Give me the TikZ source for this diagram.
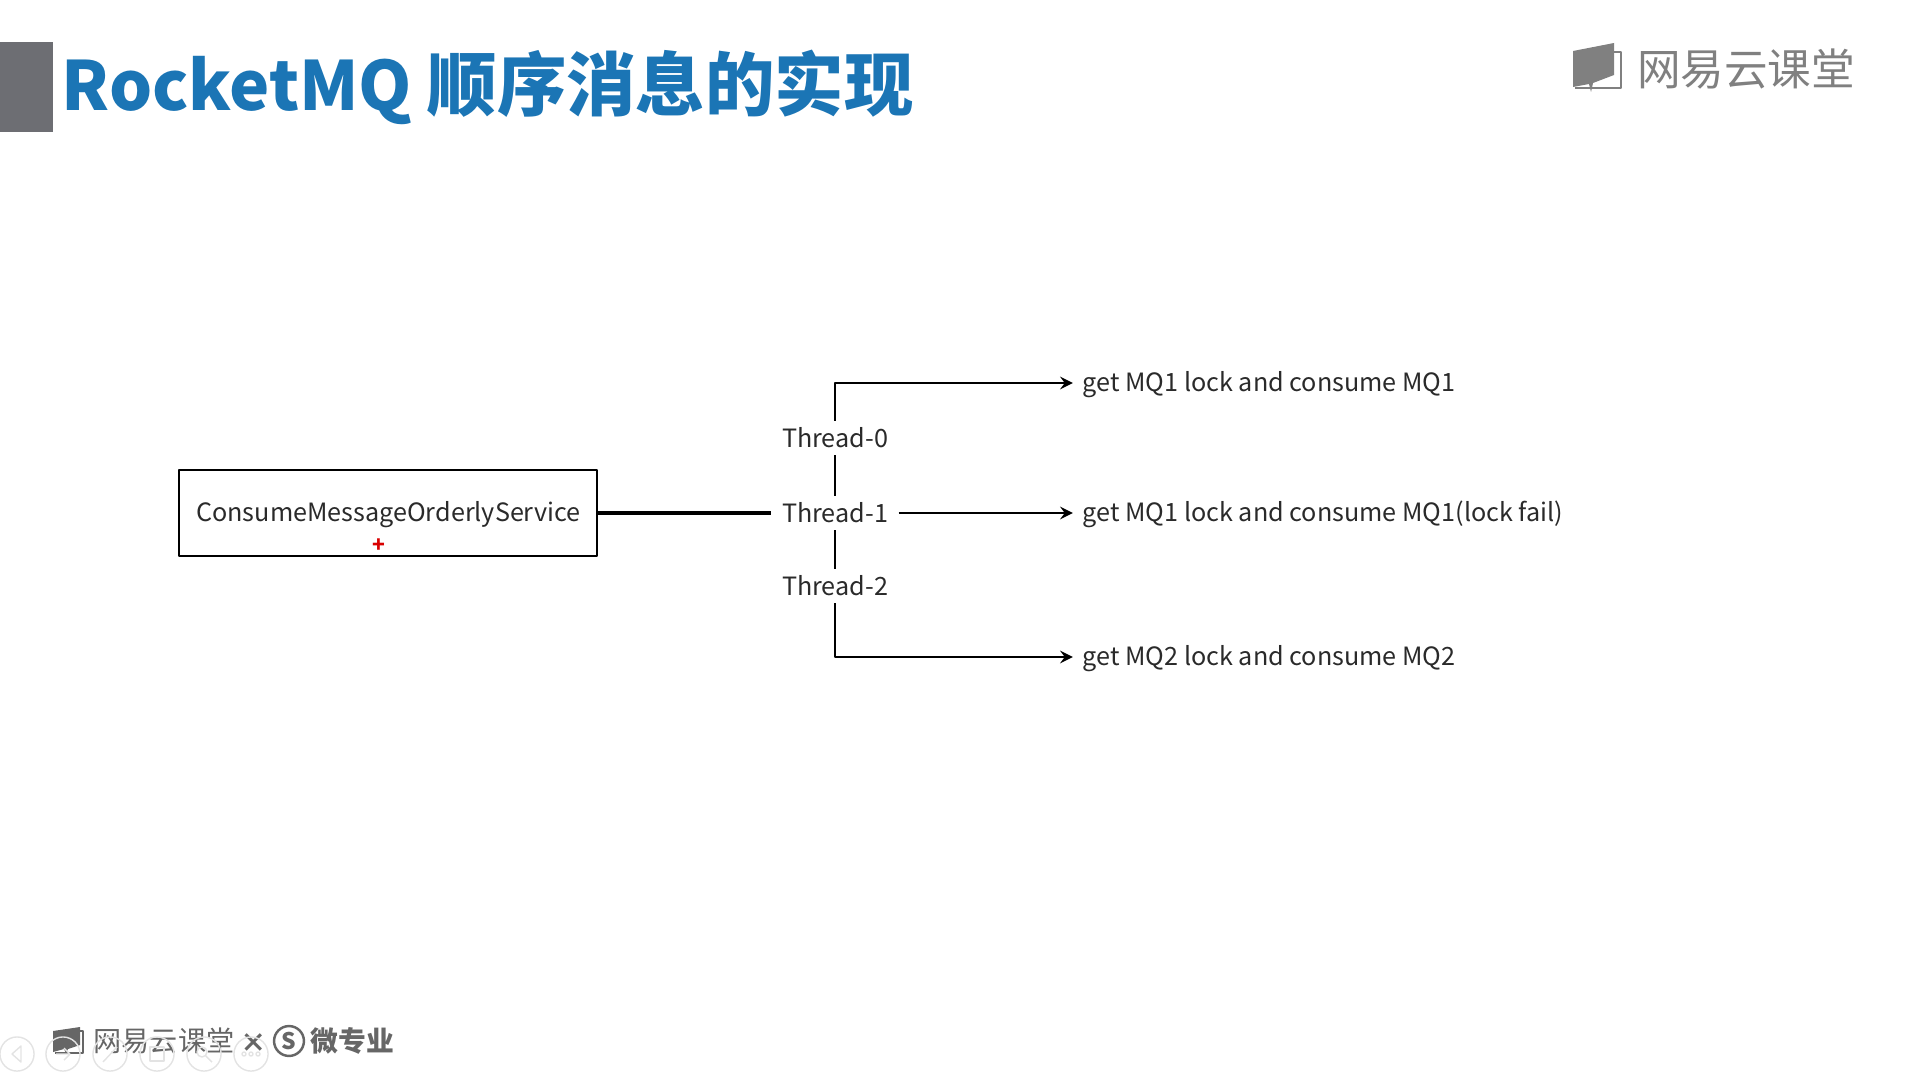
\documentclass[tikz,border=0pt]{standalone}
\usepackage{fontspec}
\setmainfont{Noto Sans CJK SC}
\usetikzlibrary{positioning}
\definecolor{titleblue}{HTML}{1B75B5}
\definecolor{bargray}{HTML}{6D6E73}
\definecolor{logogray}{HTML}{808080}
\definecolor{footgray}{HTML}{666666}
\definecolor{textdark}{HTML}{2A2A2A}
\tikzset{
	threadnode/.style={inner xsep=2.85pt,inner ysep=0pt,text height=7.5pt,text depth=1.9pt,text=textdark},
	resultnode/.style={inner sep=0pt,text height=6.1pt,text depth=1.5pt,text=textdark,anchor=west},
	navbutton/.style={draw=gray!22,line width=0.4pt},
}
\begin{document}
\begin{tikzpicture}[x=0.01cm,y=-0.01cm,font=\fontsize{7.16pt}{9pt}\selectfont,line join=round,>=stealth]
	\useasboundingbox (0,0) rectangle (1907,1073);
	% header
	\fill[bargray] (0,42) rectangle (53,132);
	\node[anchor=base west,inner sep=0pt,text=titleblue] (title) at (61,111) {\bfseries\fontsize{19.3pt}{24pt}\selectfont RocketMQ \fontsize{19.75pt}{24pt}\selectfont 顺序消息的实现};
	\fill[logogray] (1573,51)--(1614,43)--(1614,75)--(1593,83)--(1591,92)--(1589,84)--(1573,87)--cycle;
	\draw[logogray,line width=0.5pt] (1614,52)--(1621,52)--(1621,88)--(1575,88);
	\node[inner sep=0pt,text=logogray] (logo) at (1746,69) {\fontsize{12.4pt}{14pt}\selectfont 网易云课堂};
	% diagram
	\node[draw,line width=0.6pt,minimum width=119pt,minimum height=24.6pt,inner sep=0pt,text=textdark] (service) at (388,513) {};
	\node[text=textdark,inner sep=0pt] (servicetext) at (388.5,515) {ConsumeMessageOrderlyService};
	\node[inner sep=0pt,text=red!85!black] (cursor) at (379,546) {\fontsize{6pt}{6pt}\selectfont\bfseries +};
	\node[threadnode] (thread0) at (835,438) {Thread-0};
	\node[threadnode] (thread1) at (835,513) {Thread-1};
	\node[threadnode] (thread2) at (835,586) {Thread-2};
	\node[resultnode] (result0) at (1082,383) {get MQ1 lock and consume MQ1};
	\node[resultnode] (result1) at (1082,513) {get MQ1 lock and consume MQ1(lock fail)};
	\node[resultnode] (result2) at (1082,657) {get MQ2 lock and consume MQ2};
	\coordinate (corner0) at (thread0.north |- result0.west);
	\coordinate (corner2) at (thread2.south |- result2.west);
	\draw[line width=0.9pt] (service.east |- thread1.west)--(thread1.west);
	\draw[line width=0.6pt] (thread0)--(thread1);
	\draw[line width=0.6pt] (thread1)--(thread2);
	\draw[->,line width=0.6pt] (thread0)--(corner0)--([xshift=-2.6pt]result0.west);
	\draw[->,line width=0.6pt] (thread1)--([xshift=-2.6pt]result1.west);
	\draw[->,line width=0.6pt] (thread2)--(corner2)--([xshift=-2.6pt]result2.west);
	% footer
	\fill[footgray] (53,1031)--(80,1027)--(80,1045)--(68,1049)--(66,1053)--(64,1049)--(53,1052)--cycle;
	\draw[footgray,line width=0.4pt] (80,1031)--(83,1031)--(83,1053)--(55,1053);
	\node[anchor=west,inner sep=0pt,text=footgray] (footlogo) at (93,1041) {\fontsize{8pt}{9pt}\selectfont 网易云课堂};
	\node[inner sep=0pt,text=footgray] (times) at (254,1043) {\fontsize{7.5pt}{9pt}\selectfont\bfseries ×};
	\node[draw=footgray,circle,line width=0.7pt,minimum size=8.5pt,inner sep=0pt,text=footgray] (coin) at (289,1041) {\fontsize{6.5pt}{8pt}\selectfont\bfseries S};
	\node[anchor=west,inner sep=0pt,text=footgray] (micro) at (310,1041) {\fontsize{7.9pt}{9pt}\selectfont\bfseries 微专业};
	\foreach \px/\name in {17/nava,63/navb,110/navc,157/navd,204/nave,251/navf}
		\node[navbutton,circle,minimum size=9.7pt,inner sep=0pt] (\name) at (\px,1054) {};
	\draw[navbutton] (21,1046)--(12,1054)--(21,1062)--cycle;
	\draw[navbutton] (56,1054)--(70,1054) (64,1048)--(70,1054)--(64,1060);
	\draw[navbutton] (103,1062)--(117,1047);
	\draw[navbutton] (150,1047) rectangle (164,1061);
	\draw[navbutton] (202,1052) circle (5) (206,1056)--(212,1062);
	\draw[navbutton] (244,1054) circle (2) (251,1054) circle (2) (258,1054) circle (2);
\end{tikzpicture}
\end{document}
